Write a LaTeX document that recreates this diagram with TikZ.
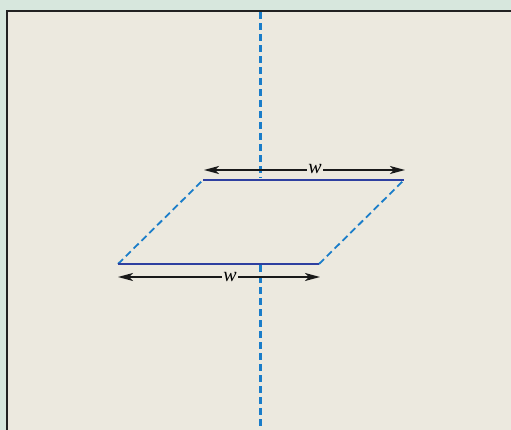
\documentclass[tikz,border=0pt]{standalone}
\usetikzlibrary{arrows.meta}
\usepackage{fontspec}
\setmainfont{Liberation Serif}
\definecolor{outerbg}{HTML}{D7E7DD}
\definecolor{innerbg}{HTML}{ECE9DF}
\definecolor{edgeblue}{HTML}{2E3FA0}
\definecolor{dashblue}{HTML}{1A7DC9}
\definecolor{framecol}{HTML}{222222}
\tikzset{
  edge/.style={draw=edgeblue, line width=2.2pt},
  sideline/.style={draw=dashblue, line width=1.8pt, dash pattern=on 7pt off 4pt},
  axisline/.style={draw=dashblue, line width=2.4pt, dash pattern=on 7pt off 4pt},
  dim/.style={draw=black!90, line width=1.3pt, {Stealth[length=15pt,width=8pt,inset=4pt]}-{Stealth[length=15pt,width=8pt,inset=4pt]}},
  lbl/.style={fill=innerbg, inner xsep=1.5pt, inner ysep=1pt, font=\fontsize{20}{20}\selectfont\itshape}
}
\begin{document}
\begin{tikzpicture}[x=1pt,y=-1pt]
\useasboundingbox (0,0) rectangle (511,430);
\fill[outerbg] (0,0) rectangle (511,430);
\fill[innerbg] (7,11) rectangle (515,434);
\draw[framecol, line width=2.8pt] (515,11) -- (7,11) -- (7,434);
% parallelogram corners
\coordinate (TL) at (203,180);
\coordinate (TR) at (404,180);
\coordinate (BL) at (118,264);
\coordinate (BR) at (319,264);
% axis
\coordinate (AT) at (260.5,12.5);
\coordinate (AU) at (260.5,178);
\coordinate (AL) at (260.5,265);
\coordinate (AB) at (260.5,432);
\draw[axisline] (AT) -- (AU);
\draw[axisline] (AL) -- (AB);
% sides
\draw[sideline] (BL) -- (TL);
\draw[sideline] (BR) -- (TR);
\draw[edge] (TL) -- (TR);
\draw[edge] (BL) -- (BR);
% dimension arrows
\coordinate (D1a) at (204,170);
\coordinate (D1b) at (405,170);
\coordinate (D2a) at (118,277);
\coordinate (D2b) at (320,277);
\draw[dim] (D1a) -- (D1b);
\draw[dim] (D2a) -- (D2b);
\node[lbl, anchor=base] (w1) at (315,174) {w};
\node[lbl, anchor=base] (w2) at (230,281) {w};
\end{tikzpicture}
\end{document}
